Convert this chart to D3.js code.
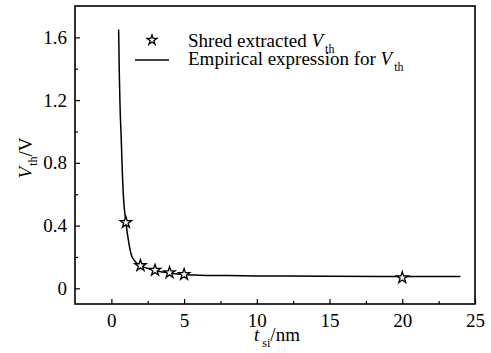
<!DOCTYPE html>
<html>
<head>
<meta charset="utf-8">
<script src="https://cdn.jsdelivr.net/npm/d3@7"></script>
<style>
  body { margin: 0; background: #fff; }
</style>
</head>
<body>
<svg id="chart" width="491" height="353"></svg>
<script>
var width = 491;
var height = 353;

// extracted points (t_si in nm, Vth in V)
var pointX = [1, 2, 3, 4, 5, 20];
var pointY = [0.42, 0.145, 0.115, 0.10, 0.088, 0.068];

// empirical curve
var curveX = [0.5, 0.55, 0.6, 0.68, 0.75, 0.84, 1.0, 1.2, 1.35, 1.6, 2.0, 2.5, 3, 4, 5, 6, 8, 10, 12, 15, 20, 24];
var curveY = [1.65, 1.35, 1.15, 0.95, 0.75, 0.57, 0.42, 0.29, 0.22, 0.175, 0.145, 0.127, 0.114, 0.098, 0.088, 0.084, 0.081, 0.079, 0.078, 0.077, 0.075, 0.075];

var xTicks = [0, 5, 10, 15, 20, 25];
var xMinor = [2.5, 7.5, 12.5, 17.5, 22.5];
var yTicks = [0, 0.4, 0.8, 1.2, 1.6];
var yMinor = [0.2, 0.6, 1.0, 1.4];

var margin = {left: 75, top: 6, right: 16, bottom: 49};
var serif = "'Liberation Serif', 'Times New Roman', serif";

var svg = d3.select("#chart");

var x = d3.scaleLinear().domain([-2.5, 25]).range([margin.left, width - margin.right]);
var y = d3.scaleLinear().domain([-0.1, 1.8]).range([height - margin.bottom, margin.top]);

// curve
var curveData = curveX.map(function(d, i) { return [d, curveY[i]]; });
var line = d3.line()
    .x(function(d) { return x(d[0]); })
    .y(function(d) { return y(d[1]); })
    .curve(d3.curveMonotoneX);

svg.append("path")
    .datum(curveData)
    .attr("d", line)
    .attr("fill", "none")
    .attr("stroke", "#000")
    .attr("stroke-width", 1.5);

// axes, ticks inward
var xAxis = d3.axisBottom(x).tickValues(xTicks).tickSize(-5).tickPadding(10).tickFormat(d3.format("d"));
var xAxisMinor = d3.axisBottom(x).tickValues(xMinor).tickSize(-3).tickFormat("");
var yAxis = d3.axisLeft(y).tickValues(yTicks).tickSize(-5).tickPadding(8)
    .tickFormat(function(d) { return d === 0 ? "0" : d3.format(".1f")(d); });
var yAxisMinor = d3.axisLeft(y).tickValues(yMinor).tickSize(-3).tickFormat("");

function styleAxis(g) {
  g.attr("font-family", serif).attr("font-size", 19);
  g.select(".domain").remove();
  g.selectAll("line").attr("stroke", "#000").attr("stroke-width", 1.2);
  g.selectAll("text").attr("fill", "#000");
}

svg.append("g").attr("transform", "translate(0," + (height - margin.bottom) + ")").call(xAxis).call(styleAxis);
svg.append("g").attr("transform", "translate(0," + (height - margin.bottom) + ")").call(xAxisMinor).call(styleAxis);
svg.append("g").attr("transform", "translate(" + margin.left + ",0)").call(yAxis).call(styleAxis);
svg.append("g").attr("transform", "translate(" + margin.left + ",0)").call(yAxisMinor).call(styleAxis);

// frame
svg.append("rect")
    .attr("x", margin.left)
    .attr("y", margin.top)
    .attr("width", width - margin.left - margin.right)
    .attr("height", height - margin.top - margin.bottom)
    .attr("fill", "none")
    .attr("stroke", "#000")
    .attr("stroke-width", 1.6);

// stars
var star = d3.symbol().type(d3.symbolStar).size(40);
svg.selectAll(".pt")
    .data(pointX)
    .enter().append("path")
    .attr("class", "pt")
    .attr("d", star)
    .attr("transform", function(d, i) { return "translate(" + x(d) + "," + y(pointY[i]) + ")"; })
    .attr("fill", "#fff")
    .attr("stroke", "#000")
    .attr("stroke-width", 1.3);

// legend
svg.append("path")
    .attr("d", d3.symbol().type(d3.symbolStar).size(30))
    .attr("transform", "translate(152,40)")
    .attr("fill", "#fff")
    .attr("stroke", "#000")
    .attr("stroke-width", 1.3);
svg.append("line")
    .attr("x1", 135).attr("x2", 169).attr("y1", 60).attr("y2", 60)
    .attr("stroke", "#000").attr("stroke-width", 1.5);

var t1 = svg.append("text").attr("x", 188).attr("y", 47).style("font-size", "19px");
t1.append("tspan").text("Shred extracted ");
t1.append("tspan").style("font-style", "italic").text("V");
t1.append("tspan").attr("dx", 2).attr("dy", 6).style("font-size", "12px").text("th");

var t2 = svg.append("text").attr("x", 188).attr("y", 65).style("font-size", "19px");
t2.append("tspan").text("Empirical expression for ");
t2.append("tspan").style("font-style", "italic").text("V");
t2.append("tspan").attr("dx", 2).attr("dy", 6).style("font-size", "12px").text("th");

// axis titles
var yl = svg.append("text")
    .attr("transform", "translate(32,158) rotate(-90)")
    .attr("text-anchor", "middle")
    .style("font-size", "19px");
yl.append("tspan").style("font-style", "italic").text("V");
yl.append("tspan").attr("dx", 1).attr("dy", 5).style("font-size", "12px").text("th");
yl.append("tspan").attr("dy", -5).text("/V");

var xl = svg.append("text")
    .attr("x", 277).attr("y", 341)
    .attr("text-anchor", "middle")
    .style("font-size", "19px");
xl.append("tspan").style("font-style", "italic").text("t");
xl.append("tspan").attr("dx", 3).attr("dy", 6).style("font-size", "12px").text("si");
xl.append("tspan").attr("dy", -6).text("/nm");

svg.selectAll("text").style("font-family", serif).attr("fill", "#000");
</script>
</body>
</html>
